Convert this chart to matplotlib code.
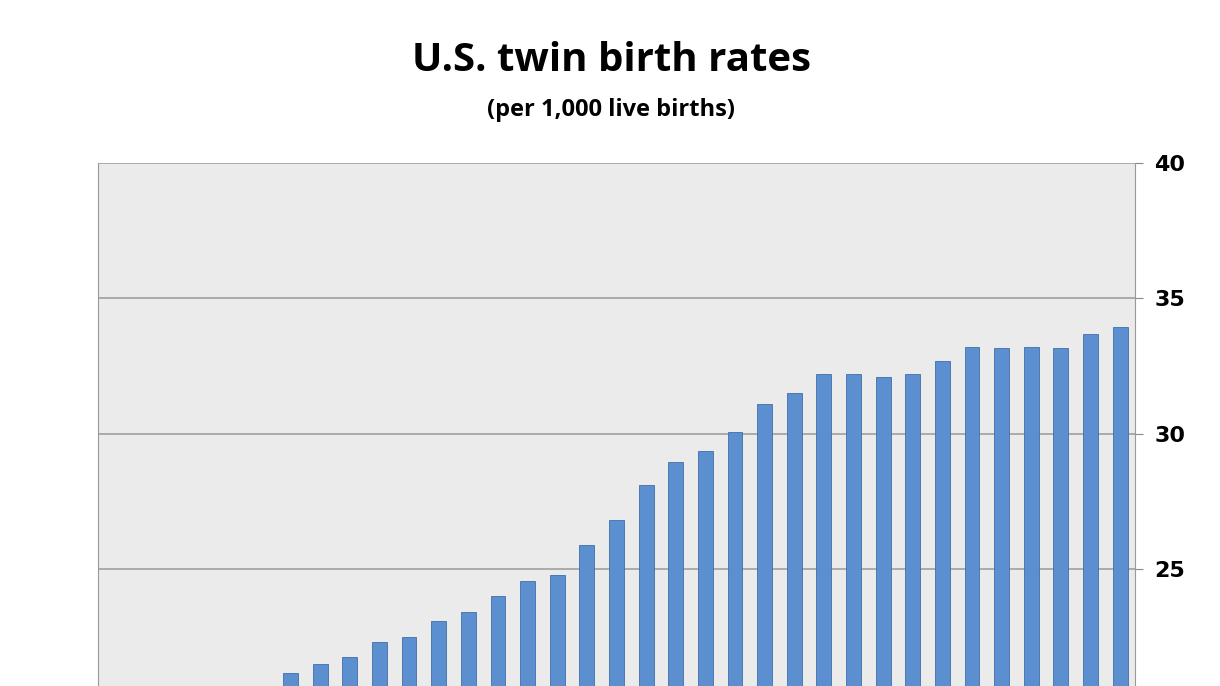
import matplotlib
matplotlib.use("Agg")
import matplotlib.pyplot as plt

years = list(range(1980, 2015))
rates = [18.9, 19.2, 19.4, 19.8, 19.9, 20.5, 21.15, 21.5, 21.75, 22.3, 22.5, 23.1, 23.4,
         24.0, 24.55, 24.8, 25.9, 26.8, 28.1, 28.95, 29.35, 30.05, 31.1, 31.5, 32.2,
         32.2, 32.1, 32.2, 32.7, 33.2, 33.15, 33.2, 33.15, 33.7, 33.95]
yticks = [25, 30, 35, 40]

fig = plt.figure(figsize=(12.2, 6.86), dpi=100)
ax = fig.add_axes([0.0803, -0.027, 0.85, 0.7894])
ax.set_facecolor("#ebebeb")
x = list(range(len(years)))
ax.bar(x, rates, width=0.5, color="#5b8fd0", edgecolor="#3f6fa8", linewidth=0.6, zorder=3)
ax.set_xlim(-0.5, len(years) - 0.5)
ax.set_ylim(20, 40)
ax.set_yticks(yticks)
ax.yaxis.tick_right()
ax.tick_params(axis="y", length=6, color="#888888", labelsize=16, pad=8)
for lab in ax.get_yticklabels():
    lab.set_fontweight("bold")
ax.set_xticks([])
ax.grid(axis="y", color="#a0a0a0", linewidth=1.2, zorder=0)
ax.spines["top"].set_visible(False)
for s in ["left", "right", "bottom"]:
    ax.spines[s].set_color("#999999")

fig.text(0.501, 0.912, "U.S. twin birth rates", ha="center", va="center",
         fontsize=29, fontweight="bold", family="Open Sans")
fig.text(0.501, 0.84, "(per 1,000 live births)", ha="center", va="center",
         fontsize=17, fontweight="bold", family="Open Sans")
fig.savefig("out.png", dpi=100)
